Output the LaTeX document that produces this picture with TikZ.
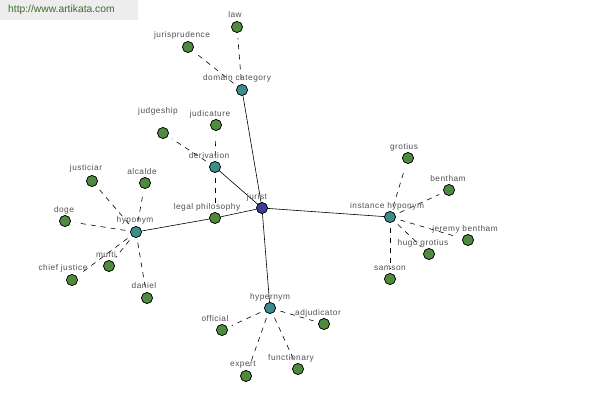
\documentclass[tikz,border=0pt]{standalone}
\usepackage{fontspec}
\setmainfont{Liberation Sans}
\newfontfamily\lblfont[LetterSpace=6]{Liberation Sans}
\definecolor{leaf}{HTML}{4E8B3E}
\definecolor{hub}{HTML}{3F8C8C}
\definecolor{root}{HTML}{3D3D9B}
\definecolor{lbl}{HTML}{505050}
\definecolor{hdrbg}{HTML}{EDEDED}
\definecolor{hdrtx}{HTML}{3F6B2E}
\begin{document}
\begin{tikzpicture}[x=1pt,y=-1pt,
  dot/.style={circle,draw=black,line width=0.6pt,minimum size=11pt,inner sep=0pt},
  leafdot/.style={dot,fill=leaf},
  hubdot/.style={dot,fill=hub},
  rootdot/.style={dot,fill=root},
  txt/.style={font=\lblfont\fontsize{8.3}{9}\selectfont,text=lbl,inner sep=0pt},
  solidl/.style={draw=black,line width=0.6pt},
  dashl/.style={draw=black,line width=0.6pt,dash pattern=on 5pt off 5pt,shorten <=5pt,shorten >=5pt}]
\useasboundingbox (0,0) rectangle (600,400);
\fill[hdrbg] (0,0) rectangle (138,20);
\node[font=\fontsize{10.3}{11}\selectfont,text=hdrtx,anchor=west,inner sep=0pt] (hdr) at (8,10) {http://www.artikata.com};
% nodes
\node[rootdot] (jurist) at (262,208) {};
\node[hubdot] (domain) at (242,90) {};
\node[leafdot] (law) at (237,27) {};
\node[leafdot] (jurisprudence) at (188,47) {};
\node[hubdot] (derivation) at (215,167) {};
\node[leafdot] (judgeship) at (163,133) {};
\node[leafdot] (judicature) at (216,125) {};
\node[leafdot] (legalphil) at (215,218) {};
\node[hubdot] (hyponym) at (136,232) {};
\node[leafdot] (justiciar) at (92,181) {};
\node[leafdot] (alcalde) at (145,183) {};
\node[leafdot] (doge) at (65,221) {};
\node[leafdot] (mufti) at (109,266) {};
\node[leafdot] (chiefjustice) at (72,280) {};
\node[leafdot] (daniel) at (147,298) {};
\node[hubdot] (hypernym) at (270,308) {};
\node[leafdot] (official) at (222,330) {};
\node[leafdot] (adjudicator) at (324,324) {};
\node[leafdot] (expert) at (246,376) {};
\node[leafdot] (functionary) at (298,369) {};
\node[hubdot] (insthyp) at (390,217) {};
\node[leafdot] (grotius) at (408,158) {};
\node[leafdot] (bentham) at (449,190) {};
\node[leafdot] (jeremy) at (468,240) {};
\node[leafdot] (hugo) at (429,254) {};
\node[leafdot] (samson) at (390,279) {};
% connectors
\path[solidl] (jurist) -- (domain);
\path[solidl] (jurist) -- (derivation);
\path[solidl] (jurist) -- (legalphil);
\path[solidl] (legalphil) -- (hyponym);
\path[solidl] (jurist) -- (hypernym);
\path[solidl] (jurist) -- (insthyp);
\path[dashl] (domain) -- (law);
\path[dashl] (domain) -- (jurisprudence);
\path[dashl] (derivation) -- (judgeship);
\path[dashl] (derivation) -- (judicature);
\path[dashl] (derivation) -- (legalphil);
\path[dashl] (hyponym) -- (justiciar);
\path[dashl] (hyponym) -- (alcalde);
\path[dashl] (hyponym) -- (doge);
\path[dashl] (hyponym) -- (mufti);
\path[dashl] (hyponym) -- (chiefjustice);
\path[dashl] (hyponym) -- (daniel);
\path[dashl] (hypernym) -- (official);
\path[dashl] (hypernym) -- (adjudicator);
\path[dashl] (hypernym) -- (expert);
\path[dashl] (hypernym) -- (functionary);
\path[dashl] (insthyp) -- (grotius);
\path[dashl] (insthyp) -- (bentham);
\path[dashl] (insthyp) -- (jeremy);
\path[dashl] (insthyp) -- (hugo);
\path[dashl] (insthyp) -- (samson);
% redraw dots on top
\foreach \n/\s in {jurist/rootdot,domain/hubdot,derivation/hubdot,hyponym/hubdot,hypernym/hubdot,insthyp/hubdot,law/leafdot,jurisprudence/leafdot,judgeship/leafdot,judicature/leafdot,legalphil/leafdot,justiciar/leafdot,alcalde/leafdot,doge/leafdot,mufti/leafdot,chiefjustice/leafdot,daniel/leafdot,official/leafdot,adjudicator/leafdot,expert/leafdot,functionary/leafdot,grotius/leafdot,bentham/leafdot,jeremy/leafdot,hugo/leafdot,samson/leafdot}
  {\node[\s] at (\n.center) {};}
% labels
\node[txt] (tjurist) at (257,197) {jurist};
\node[txt] (tdomain) at (237,78) {domain category};
\node[txt] (tlaw) at (235,15) {law};
\node[txt] (tjuris) at (182,35) {jurisprudence};
\node[txt] (tderiv) at (209,156) {derivation};
\node[txt] (tjudgeship) at (158,111) {judgeship};
\node[txt] (tjudicature) at (210,114) {judicature};
\node[txt] (tlegal) at (207,207) {legal philosophy};
\node[txt] (thypo) at (135,220) {hyponym};
\node[txt] (tjusticiar) at (86,168) {justiciar};
\node[txt] (talcalde) at (142,172) {alcalde};
\node[txt] (tdoge) at (64,210) {doge};
\node[txt] (tmufti) at (106,255) {mufti};
\node[txt] (tchief) at (63,268) {chief justice};
\node[txt] (tdaniel) at (144,286) {daniel};
\node[txt] (thyper) at (270,297) {hypernym};
\node[txt] (tofficial) at (215,319) {official};
\node[txt] (tadj) at (318,313) {adjudicator};
\node[txt] (texpert) at (243,365) {expert};
\node[txt] (tfunc) at (291,358) {functionary};
\node[txt] (tinst) at (387,206) {instance hyponym};
\node[txt] (tgrotius) at (404,147) {grotius};
\node[txt] (tbentham) at (448,179) {bentham};
\node[txt] (tjeremy) at (465,229) {jeremy bentham};
\node[txt] (thugo) at (423,243) {hugo grotius};
\node[txt] (tsamson) at (390,268) {samson};
\end{tikzpicture}
\end{document}
